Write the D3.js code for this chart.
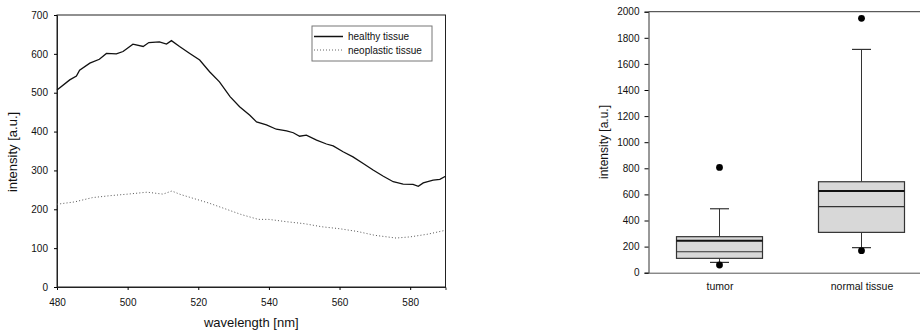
<!DOCTYPE html>
<html>
<head>
<meta charset="utf-8">
<script src="https://cdn.jsdelivr.net/npm/d3@7"></script>
<style>
  body { margin: 0; background: #fff; }
  svg { font-family: "Liberation Sans", Arial, sans-serif; }
</style>
</head>
<body>
<div id="chart"></div>
<script>
// left panel: emission spectra
var healthyWl = [480, 483.6, 485.5, 486.4, 489.3, 492, 494, 496.8, 498.7, 501.5, 504.4, 506, 509, 511, 512.4, 514.7, 517.6, 520.4, 523.2, 526, 529, 531.7, 534.6, 536.5, 539.3, 542.1, 545, 546.9, 548.7, 550.6, 553.5, 556.3, 558.2, 561, 563.8, 566.7, 569.5, 572.4, 575.2, 578, 580.8, 582.3, 583.7, 586.5, 588.4, 590];
var healthyVals = [507, 533, 543, 558, 576, 586, 601, 600, 606, 625, 619, 629, 631, 625, 634, 619, 601, 584, 554, 528, 490, 464, 442, 425, 417, 406, 402, 397, 388, 391, 378, 368, 363, 348, 335, 318, 301, 285, 271, 265, 264, 259, 268, 275, 277, 285];
var neoWl = [480, 485, 490, 495, 500, 505.5, 510, 512.5, 515, 519, 523, 528, 532, 537, 540, 545, 550, 555, 560, 565, 570, 576, 580, 585, 590];
var neoVals = [213, 219, 230, 235, 239, 244, 239, 247, 238, 227, 216, 200, 187, 174, 174, 168, 163, 155, 150, 143, 133, 126, 129, 136, 146];
var xTicks = [480, 500, 520, 540, 560, 580];
var yTicksL = [0, 100, 200, 300, 400, 500, 600, 700];
var legendLabels = ["healthy tissue", "neoplastic tissue"];

// right panel: box plot
var boxCats = ["tumor", "normal tissue"];
var q1 = [110, 309];
var q3 = [276, 697];
var medianVals = [245, 626];
var meanVals = [161, 506];
var whiskLow = [79, 192];
var whiskHigh = [490, 1711];
var outliers = [[807, 59], [1949, 169]];
var yTicksR = [0, 200, 400, 600, 800, 1000, 1200, 1400, 1600, 1800, 2000];

var W = 920, H = 331;
var svg = d3.select("#chart").append("svg")
  .attr("width", W).attr("height", H);

// ---------- left chart ----------
var L = {left: 57, right: 445.5, top: 15, bottom: 287};

var x = d3.scaleLinear().domain([480, 590]).range([L.left, L.right]);
var y = d3.scaleLinear().domain([0, 700]).range([L.bottom, L.top]);

var gl = svg.append("g");

gl.append("rect")
  .attr("x", L.left).attr("y", L.top)
  .attr("width", L.right - L.left).attr("height", L.bottom - L.top)
  .attr("fill", "none").attr("stroke", "#222").attr("stroke-width", 1);

var xAxis = d3.axisBottom(x).tickValues(xTicks).tickSize(3).tickPadding(9);
gl.append("g")
  .attr("transform", "translate(0," + L.bottom + ")")
  .call(xAxis)
  .call(g => g.select(".domain").attr("stroke", "#222"))
  .selectAll("text").attr("font-size", 10).attr("fill", "#111")
  .attr("font-family", "Liberation Sans, Arial, sans-serif");

var yAxis = d3.axisLeft(y).tickValues(yTicksL).tickSize(3).tickPadding(6);
gl.append("g")
  .attr("transform", "translate(" + L.left + ",0)")
  .call(yAxis)
  .call(g => g.select(".domain").attr("stroke", "#222"))
  .selectAll("text").attr("font-size", 10).attr("fill", "#111")
  .attr("font-family", "Liberation Sans, Arial, sans-serif");

var line = d3.line()
  .x(d => x(d[0]))
  .y(d => y(d[1]));

gl.append("path")
  .datum(healthyWl.map((w, i) => [w, healthyVals[i]]))
  .attr("d", line)
  .attr("fill", "none").attr("stroke", "#111").attr("stroke-width", 1.3);

gl.append("path")
  .datum(neoWl.map((w, i) => [w, neoVals[i]]))
  .attr("d", line)
  .attr("fill", "none").attr("stroke", "#555").attr("stroke-width", 1)
  .attr("stroke-dasharray", "1,2.2");

gl.append("text")
  .attr("x", (L.left + L.right) / 2).attr("y", 327)
  .attr("text-anchor", "middle").attr("font-size", 13).attr("fill", "#111")
  .text("wavelength [nm]");

gl.append("text")
  .attr("transform", "translate(17,152) rotate(-90)")
  .attr("text-anchor", "middle").attr("font-size", 13).attr("fill", "#111")
  .text("intensity [a.u.]");

// legend
var lg = gl.append("g").attr("transform", "translate(312,26)");
lg.append("rect").attr("width", 120).attr("height", 35)
  .attr("fill", "#fff").attr("stroke", "#777");
legendLabels.forEach(function(t, i) {
  var yy = 10.5 + i * 13.5;
  lg.append("line").attr("x1", 2).attr("x2", 31).attr("y1", yy).attr("y2", yy)
    .attr("stroke", i ? "#666" : "#111").attr("stroke-width", i ? 1 : 1.5)
    .attr("stroke-dasharray", i ? "1,2" : null);
  lg.append("text").attr("x", 36).attr("y", yy + 3.5)
    .attr("font-size", 10).attr("fill", "#111").text(t);
});

// ---------- right chart ----------
var R = {left: 648.5, right: 932.5, top: 11.7, bottom: 272.7};

var xb = d3.scalePoint().domain(boxCats).range([R.left, R.right]).padding(0.5);
var yb = d3.scaleLinear().domain([0, 2000]).range([R.bottom, R.top]);

var gr = svg.append("g");

gr.append("line")
  .attr("x1", R.left).attr("x2", W).attr("y1", R.top).attr("y2", R.top)
  .attr("stroke", "#333").attr("stroke-width", 1);

var ybAxis = d3.axisLeft(yb).tickValues(yTicksR).tickFormat(d3.format("d"))
  .tickSize(4).tickPadding(5);
gr.append("g")
  .attr("transform", "translate(" + R.left + ",0)")
  .call(ybAxis)
  .call(g => g.select(".domain").attr("stroke", "#333"))
  .selectAll("text").attr("font-size", 10).attr("fill", "#111")
  .attr("font-family", "Liberation Sans, Arial, sans-serif");

var xbAxis = d3.axisBottom(xb).tickSize(0).tickPadding(10);
gr.append("g")
  .attr("transform", "translate(0," + R.bottom + ")")
  .call(xbAxis)
  .call(g => g.select(".domain").attr("stroke", "#555"))
  .selectAll("text").attr("font-size", 10.5).attr("fill", "#111")
  .attr("font-family", "Liberation Sans, Arial, sans-serif");

gr.append("text")
  .attr("transform", "translate(608,142) rotate(-90)")
  .attr("text-anchor", "middle").attr("font-size", 12).attr("fill", "#111")
  .text("intensity [a.u.]");

var bw = 86;
var capW = 19;

boxCats.forEach(function(c, i) {
  var cx = xb(c);
  // whiskers
  gr.append("line").attr("x1", cx).attr("x2", cx)
    .attr("y1", yb(q3[i])).attr("y2", yb(whiskHigh[i]))
    .attr("stroke", "#333");
  gr.append("line").attr("x1", cx).attr("x2", cx)
    .attr("y1", yb(q1[i])).attr("y2", yb(whiskLow[i]))
    .attr("stroke", "#333");
  [whiskHigh[i], whiskLow[i]].forEach(function(v) {
    gr.append("line").attr("x1", cx - capW / 2).attr("x2", cx + capW / 2)
      .attr("y1", yb(v)).attr("y2", yb(v)).attr("stroke", "#333").attr("stroke-width", 1.2);
  });
  // box
  gr.append("rect")
    .attr("x", cx - bw / 2).attr("width", bw)
    .attr("y", yb(q3[i])).attr("height", yb(q1[i]) - yb(q3[i]))
    .attr("fill", "#d8d8d8").attr("stroke", "#333").attr("stroke-width", 1.2);
  gr.append("line").attr("x1", cx - bw / 2).attr("x2", cx + bw / 2)
    .attr("y1", yb(medianVals[i])).attr("y2", yb(medianVals[i]))
    .attr("stroke", "#111").attr("stroke-width", 1.8);
  gr.append("line").attr("x1", cx - bw / 2).attr("x2", cx + bw / 2)
    .attr("y1", yb(meanVals[i])).attr("y2", yb(meanVals[i]))
    .attr("stroke", "#333").attr("stroke-width", 1.1);
  // outliers
  outliers[i].forEach(function(v) {
    gr.append("circle").attr("cx", cx).attr("cy", yb(v)).attr("r", 3.4)
      .attr("fill", "#000");
  });
});
</script>
</body>
</html>
